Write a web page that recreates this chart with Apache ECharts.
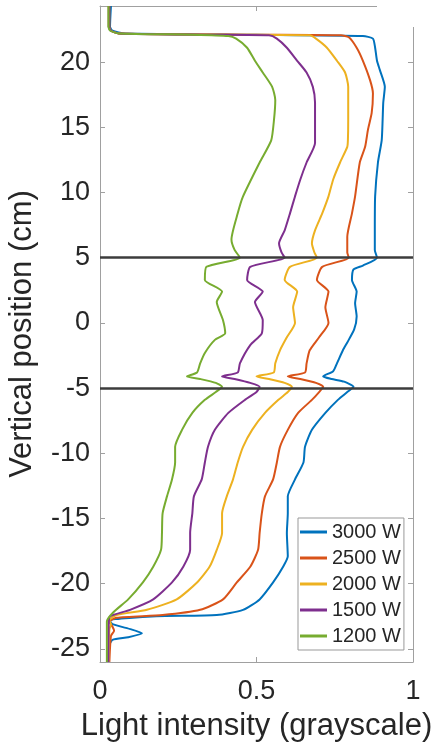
<!DOCTYPE html>
<html>
<head>
<meta charset="utf-8">
<script src="https://cdn.jsdelivr.net/npm/echarts@6/dist/echarts.min.js"></script>
<style>
  html, body { margin: 0; padding: 0; background: #fff; }
  #chart { width: 446px; height: 745px; }
</style>
</head>
<body>
<div id="chart"></div>
<script>
// legend names, top to bottom
const powers = ['3000 W', '2500 W', '2000 W', '1500 W', '1200 W'];
const colors = ['#0072BD', '#D95319', '#EDB120', '#7E2F8E', '#77AC30'];

// vertical position (cm) and light intensity (grayscale)
const pos3000 = [24.3, 22.7, 22.4, 22.2, 22.1, 22.0, 21.8, 21.1, 20.1, 19.4, 18.1, 16.9, 15.6, 14.0, 12.3, 9.7, 7.1, 5.6, 5.0, 4.4, 4.1, 3.3, 2.4, 1.5, 0.5, -0.5, -1.5, -2.1, -3.1, -3.7, -4.1, -4.3, -4.5, -4.9, -5.3, -5.9, -6.9, -8.2, -9.5, -10.7, -12.0, -13.3, -14.6, -16.1, -17.9, -18.7, -19.9, -21.2, -22.0, -22.4, -22.5, -22.8, -23.1, -23.5, -23.8, -24.1, -24.3, -24.8, -26];
const int3000 = [0.035, 0.032, 0.04, 0.08, 0.5, 0.84, 0.872, 0.879, 0.885, 0.894, 0.91, 0.905, 0.903, 0.9, 0.888, 0.879, 0.878, 0.878, 0.885, 0.84, 0.81, 0.805, 0.82, 0.815, 0.82, 0.812, 0.79, 0.776, 0.757, 0.745, 0.713, 0.74, 0.78, 0.81, 0.79, 0.76, 0.72, 0.677, 0.655, 0.65, 0.623, 0.6, 0.6, 0.597, 0.6, 0.585, 0.553, 0.51, 0.457, 0.373, 0.18, 0.03, 0.04, 0.1, 0.134, 0.09, 0.04, 0.028, 0.025];

const pos2500 = [24.3, 22.7, 22.4, 22.2, 22.1, 22.05, 21.9, 21.1, 20.1, 18.6, 17.6, 16.1, 14.8, 13.5, 12.3, 9.7, 8.4, 6.6, 5.4, 5.0, 4.3, 3.3, 2.4, 1.2, 0, -1.1, -2.1, -3.1, -3.8, -4.1, -4.3, -4.6, -4.9, -5.3, -5.9, -6.9, -8.2, -9.5, -10.7, -12, -13.3, -14.6, -16.1, -17.4, -18.7, -19.9, -21.2, -22.0, -22.4, -22.6, -22.9, -23.3, -23.6, -24.0, -26];
const int2500 = [0.03, 0.03, 0.035, 0.06, 0.5, 0.77, 0.795, 0.82, 0.84, 0.863, 0.872, 0.868, 0.856, 0.847, 0.83, 0.815, 0.805, 0.79, 0.79, 0.795, 0.71, 0.693, 0.73, 0.72, 0.73, 0.7, 0.67, 0.66, 0.655, 0.6, 0.64, 0.69, 0.713, 0.7, 0.677, 0.633, 0.6, 0.575, 0.565, 0.553, 0.527, 0.517, 0.51, 0.505, 0.48, 0.437, 0.393, 0.32, 0.2, 0.053, 0.03, 0.04, 0.045, 0.035, 0.03];

const pos2000 = [24.3, 22.7, 22.4, 22.2, 22.1, 22.05, 21.8, 21.1, 20.1, 19.2, 18.1, 15.6, 14.0, 13.5, 12.3, 11, 9.7, 8.4, 7.1, 6.1, 5.4, 5.0, 4.3, 3.3, 2.4, 1.2, 0, -1.1, -2.1, -3.1, -3.8, -4.1, -4.3, -4.6, -4.9, -5.3, -5.9, -6.9, -8.2, -9.5, -10.7, -12, -13.3, -14.6, -16.1, -17.4, -18.7, -19.9, -21.2, -22.0, -22.4, -22.8, -23.1, -23.5, -26];
const int2000 = [0.028, 0.028, 0.035, 0.06, 0.4, 0.67, 0.69, 0.725, 0.757, 0.783, 0.793, 0.793, 0.792, 0.79, 0.767, 0.745, 0.73, 0.71, 0.687, 0.677, 0.685, 0.693, 0.607, 0.59, 0.63, 0.617, 0.623, 0.597, 0.575, 0.56, 0.555, 0.5, 0.54, 0.59, 0.613, 0.6, 0.57, 0.527, 0.486, 0.457, 0.44, 0.425, 0.405, 0.39, 0.39, 0.373, 0.35, 0.31, 0.245, 0.15, 0.053, 0.03, 0.035, 0.03, 0.028];

const pos1500 = [24.3, 22.7, 22.4, 22.2, 22.1, 22.05, 21.8, 21.1, 20.1, 19.2, 18.1, 16.9, 14.8, 13.8, 12.3, 11, 9.7, 8.4, 7.1, 6.1, 5.4, 5.0, 4.3, 3.3, 2.4, 1.6, 0.2, -0.8, -1.7, -3.1, -3.8, -4.1, -4.3, -4.6, -4.9, -5.3, -5.9, -6.9, -8.2, -9.5, -10.7, -12, -13.3, -14.6, -16.1, -17.4, -18.7, -19.9, -21.2, -22.0, -22.5, -23, -26];
const int1500 = [0.028, 0.028, 0.035, 0.06, 0.35, 0.54, 0.565, 0.597, 0.63, 0.66, 0.68, 0.687, 0.687, 0.687, 0.66, 0.64, 0.623, 0.607, 0.59, 0.572, 0.58, 0.59, 0.48, 0.47, 0.52, 0.495, 0.52, 0.517, 0.48, 0.447, 0.44, 0.39, 0.43, 0.48, 0.51, 0.5, 0.463, 0.41, 0.367, 0.345, 0.335, 0.325, 0.3, 0.295, 0.288, 0.288, 0.266, 0.23, 0.17, 0.096, 0.032, 0.028, 0.027];

const pos1200 = [24.3, 22.7, 22.4, 22.2, 22.1, 22.0, 21.8, 21.1, 20.1, 19.2, 18.1, 17.1, 15.6, 14.0, 12.3, 9.7, 8.4, 6.4, 5.6, 5.0, 4.3, 3.3, 2.4, 1.6, 0.2, -0.8, -1.3, -2.3, -3.1, -3.8, -4.1, -4.3, -4.6, -4.9, -5.3, -5.9, -6.9, -8.2, -9.5, -10.7, -12, -13.3, -14.6, -16.1, -17.4, -18.7, -19.9, -21.2, -22.2, -22.9, -26];
const int1200 = [0.027, 0.027, 0.033, 0.06, 0.3, 0.41, 0.435, 0.47, 0.495, 0.52, 0.55, 0.56, 0.556, 0.547, 0.51, 0.457, 0.44, 0.42, 0.43, 0.447, 0.34, 0.335, 0.39, 0.373, 0.393, 0.4, 0.367, 0.335, 0.32, 0.31, 0.278, 0.32, 0.37, 0.39, 0.37, 0.335, 0.295, 0.262, 0.24, 0.24, 0.23, 0.214, 0.2, 0.198, 0.195, 0.17, 0.137, 0.09, 0.042, 0.022, 0.022];

// horizontal reference lines (cm)
const refLines = [5, -5];

const positions = [pos3000, pos2500, pos2000, pos1500, pos1200];
const intensities = [int3000, int2500, int2000, int1500, int1200];

const font = "'Liberation Sans', Arial, sans-serif";
const textColor = '#262626';
const boxColor = '#a0a0a0';

const series = powers.map((name, i) => ({
  name: name,
  type: 'line',
  symbol: 'none',
  smooth: 0.2,
  color: colors[i],
  lineStyle: { width: 2, color: colors[i] },
  data: positions[i].map((p, k) => [intensities[i][k], p]),
}));

series[0].markLine = {
  silent: true,
  symbol: ['none', 'none'],
  label: { show: false },
  lineStyle: { color: '#3c3c3c', width: 2.5, type: 'solid' },
  data: refLines.map(v => ({ yAxis: v })),
};

const axisBox = { show: true, onZero: false, lineStyle: { color: boxColor, width: 1 } };
const tickIn = { show: true, inside: true, length: 5, lineStyle: { color: boxColor } };

const myChart = echarts.init(document.getElementById('chart'));
myChart.setOption({
  animation: false,
  backgroundColor: '#fff',
  grid: { left: 100, right: 33, top: 6, bottom: 83, containLabel: false, outerBoundsMode: 'none' },
  xAxis: [
    {
      type: 'value',
      min: 0,
      max: 1,
      interval: 0.5,
      name: 'Light intensity (grayscale)',
      nameLocation: 'middle',
      nameGap: 49,
      nameMoveOverlap: false,
      nameTextStyle: { fontFamily: font, fontSize: 31, color: textColor },
      axisLine: axisBox,
      axisTick: tickIn,
      axisLabel: { fontFamily: font, fontSize: 27, color: textColor, margin: 16 },
      splitLine: { show: false },
    },
    {
      type: 'value',
      position: 'top',
      min: 0,
      max: 1,
      interval: 0.5,
      axisLine: axisBox,
      axisTick: tickIn,
      axisLabel: { show: false },
      splitLine: { show: false },
    },
  ],
  yAxis: [
    {
      type: 'value',
      min: -26,
      max: 24.3,
      splitNumber: 10,
      name: 'Vertical position (cm)',
      nameLocation: 'middle',
      nameGap: 62,
      nameMoveOverlap: false,
      nameTextStyle: { fontFamily: font, fontSize: 31, color: textColor },
      axisLine: axisBox,
      axisTick: tickIn,
      axisLabel: { fontFamily: font, fontSize: 27, color: textColor, margin: 10, showMinLabel: false, showMaxLabel: false },
      splitLine: { show: false },
    },
    {
      type: 'value',
      position: 'right',
      min: -26,
      max: 24.3,
      splitNumber: 10,
      axisLine: axisBox,
      axisTick: tickIn,
      axisLabel: { show: false },
      splitLine: { show: false },
    },
  ],
  legend: {
    data: powers,
    orient: 'vertical',
    left: 298,
    top: 518,
    padding: [4, 3, 4, 2],
    itemGap: 6,
    itemWidth: 27,
    itemHeight: 3,
    icon: 'rect',
    backgroundColor: '#fff',
    borderColor: '#999',
    borderWidth: 1,
    borderRadius: 0,
    textStyle: { fontFamily: font, fontSize: 20, color: textColor, lineHeight: 20 },
  },
  graphic: [
    // the top-right corner of the original figure is blanked out
    { type: 'rect', left: 377, top: 0, shape: { width: 45, height: 27 }, style: { fill: '#fff' }, z: 100 },
  ],
  series: series,
});
</script>
</body>
</html>
